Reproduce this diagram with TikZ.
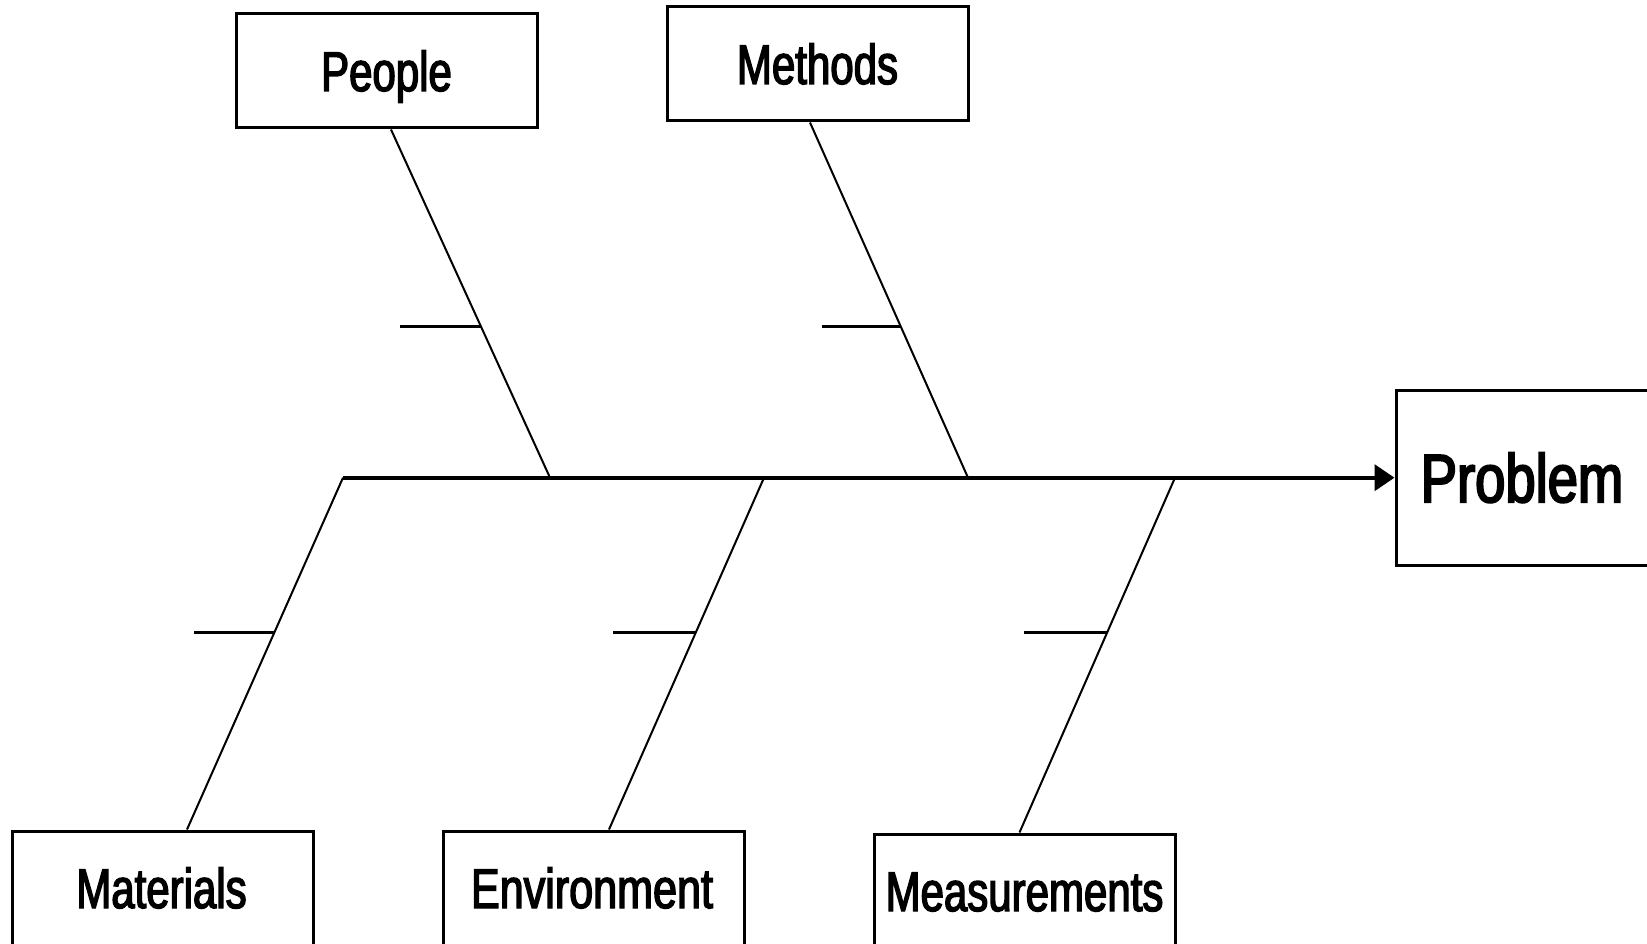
\documentclass[tikz,border=0pt]{standalone}
\usepackage{fontspec}
\usetikzlibrary{arrows.meta}
\newfontfamily\labfont[FakeStretch=0.75,FakeBold=2.5]{Liberation Sans}
\newfontfamily\envfont[FakeStretch=0.77,FakeBold=2.5]{Liberation Sans}
\newfontfamily\probfont[FakeStretch=0.8,FakeBold=3]{Liberation Sans}
\begin{document}
\begin{tikzpicture}[x=1pt,y=-1pt,
  catbox/.style={draw, line width=3pt, inner sep=0pt, minimum width=301pt, minimum height=114pt,
    font=\labfont\fontsize{56}{60}\selectfont, text height=40pt, text depth=0pt},
  probbox/.style={draw, line width=3pt, inner sep=0pt, minimum width=252pt, minimum height=175pt,
    font=\probfont\fontsize{68}{72}\selectfont, text height=48.7pt, text depth=0pt},
  bone/.style={line width=2pt},
  spine/.style={line width=4pt},
  tick/.style={line width=3pt}]
\useasboundingbox (0,0) rectangle (1647,944);
% boxes
\node[catbox] (people) at (386.5,71) {People};
\node[catbox] (methods) at (817.5,64) {Methods};
\node[catbox] (materials) at (162.5,888) {\fontsize{56}{60}\selectfont\hspace{-2pt}Materials};
\node[catbox] (environment) at (594,888) {\envfont\fontsize{56}{60}\selectfont\hspace{-4pt}Environment};
\node[catbox] (measurements) at (1024.5,891) {Measurements};
\node[probbox] (problem) at (1522,477.7) {Problem};
% spine
\coordinate (s0) at (343,477.7);
\coordinate (jpeople) at (550,477.7);
\coordinate (jmethods) at (968,477.7);
\coordinate (jenv) at (764,477.7);
\coordinate (jmeas) at (1175,477.7);
\draw[spine, -{Triangle[length=20pt,width=26pt]}] (s0) -- (problem.west);
% bones
\draw[bone] ([xshift=4.5pt]people.south) -- (jpeople)
  coordinate[pos=0.566] (tpeople);
\draw[bone] ([xshift=-7.5pt]methods.south) -- (jmethods)
  coordinate[pos=0.574] (tmethods);
\draw[bone] (s0) -- ([xshift=24.5pt]materials.north)
  coordinate[pos=0.439] (tmaterials);
\draw[bone] (jenv) -- ([xshift=15pt]environment.north)
  coordinate[pos=0.439] (tenv);
\draw[bone] (jmeas) -- ([xshift=-5pt]measurements.north)
  coordinate[pos=0.435] (tmeas);
% ticks
\draw[tick] (tpeople) -- ++(-81,0);
\draw[tick] (tmethods) -- ++(-79,0);
\draw[tick] (tmaterials) -- ++(-81,0);
\draw[tick] (tenv) -- ++(-83,0);
\draw[tick] (tmeas) -- ++(-83,0);
\end{tikzpicture}
\end{document}
